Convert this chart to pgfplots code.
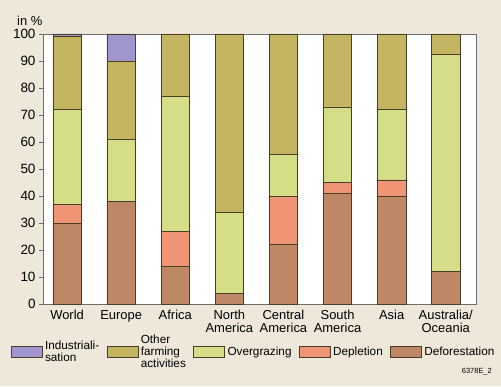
\documentclass[border=0pt]{standalone}
\usepackage{pgfplots}
\pgfplotsset{compat=1.18}
\usepackage{pgfplotstable}
\usepackage{fontspec}
\setmainfont{Liberation Sans}
\definecolor{bgc}{RGB}{237,232,218}
\definecolor{cind}{RGB}{160,150,205}
\definecolor{coth}{RGB}{196,181,98}
\definecolor{cover}{RGB}{213,221,135}
\definecolor{cdep}{RGB}{240,148,118}
\definecolor{cdef}{RGB}{190,136,102}
\definecolor{edgec}{RGB}{75,62,40}
\definecolor{axc}{RGB}{110,110,110}
\pgfplotstableread{
x def dep over oth ind
0 30 7 35 27 1
1 38 0 23 29 10
2 14 13 50 23 0
3 4 0 30 66 0
4 22 18 15.5 44.5 0
5 41 4 28 27 0
6 40 6 26 28 0
7 12 0 80.5 7.5 0
}\datatable
\begin{document}
\begin{tikzpicture}[x=1bp,y=1bp]
\fill[bgc] (0,0) rectangle (501,386);
\begin{axis}[
  at={(43bp,82bp)}, anchor=south west,
  scale only axis, width=433bp, height=270bp,
  ybar stacked, bar width=28.5bp,
  xmin=-0.445, xmax=7.56, ymin=0, ymax=100,
  axis background/.style={fill=white},
  axis line style={draw=axc, line width=0.6bp},
  xtick={0,...,7},
  xticklabels={World,Europe,Africa,{North\\America},{Central\\America},{South\\America},Asia,{Australia/\\Oceania}},
  xticklabel style={align=center, font=\fontsize{13}{13}\selectfont, yshift=1bp},
  x tick style={draw=none},
  ytick={0,10,...,100},
  ytick pos=left, tick align=outside, major tick length=4bp,
  y tick style={draw=axc, line width=0.6bp},
  yticklabel style={font=\fontsize{13.5}{14}\selectfont, xshift=0bp},
  /pgf/number format/assume math mode=true,
  every axis plot/.append style={draw=edgec, line width=0.6bp},
  legend image code/.code={\draw[#1, draw=edgec, line width=0.6bp] (0bp,-5.5bp) rectangle (31bp,5.5bp);},
  reverse legend,
  legend columns=5,
  legend style={at={(0.487,-48bp)}, anchor=center, draw=none, fill=none,
    cells={align=left},
    nodes={inner xsep=2.5bp, font=\fontsize{11.8}{12.5}\selectfont},
    /tikz/every even column/.append style={column sep=5bp}},
  legend cell align=left,
]
\addplot[fill=cdef] table[x=x,y=def]{\datatable};
\addplot[fill=cdep] table[x=x,y=dep]{\datatable};
\addplot[fill=cover] table[x=x,y=over]{\datatable};
\addplot[fill=coth] table[x=x,y=oth]{\datatable};
\addplot[fill=cind] table[x=x,y=ind]{\datatable};
\legend{Deforestation,Depletion,Overgrazing,{Other\\farming\\activities},{Industriali-\\sation}}
\end{axis}
\node[anchor=base west, font=\fontsize{13}{13}\selectfont, inner sep=0] at (17,361) {in \%};
\node[anchor=base east, font=\fontsize{7.5}{8}\selectfont, inner sep=0] at (492,13) {6378E\_2};
\end{tikzpicture}
\end{document}
